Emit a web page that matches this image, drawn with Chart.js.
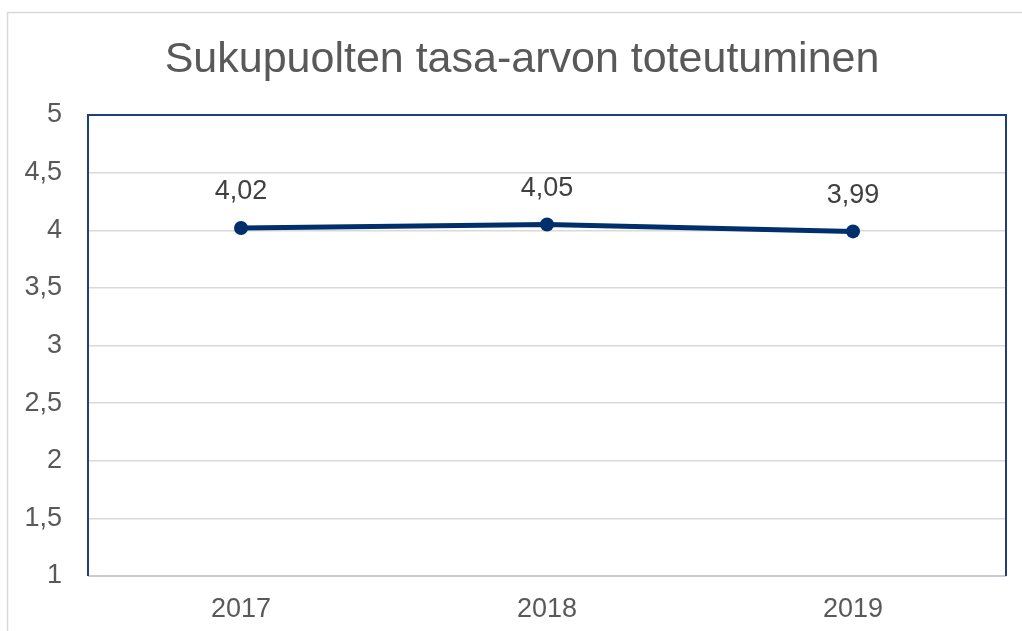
<!DOCTYPE html>
<html>
<head>
<meta charset="utf-8">
<script src="https://cdn.jsdelivr.net/npm/chart.js@4"></script>
<style>
  html, body { margin: 0; padding: 0; background: #ffffff; }
  #wrap { width: 1022px; height: 631px; position: relative; }
</style>
</head>
<body>
<div id="wrap"><canvas id="c" width="1022" height="631"></canvas></div>
<script>
const titleText = "Sukupuolten tasa-arvon toteutuminen";
const categories = ["2017", "2018", "2019"];
const values = [4.02, 4.05, 3.99];
const yMin = 1, yMax = 5, yStep = 0.5;

const fmt = v => String(v).replace('.', ',');

const decor = {
  id: 'decor',
  afterLayout(chart) {
    const t = chart.titleBlock;
    if (t) {
      const shift = 19;
      t.left += shift;
      t.right += shift;
    }
  },
  beforeDraw(chart) {
    const ctx = chart.ctx;
    ctx.save();
    ctx.strokeStyle = '#d9d9d9';
    ctx.lineWidth = 1.5;
    ctx.strokeRect(7.5, 12.5, 1100, 700);
    ctx.restore();
  },
  afterDatasetsDraw(chart) {
    const ctx = chart.ctx;
    const a = chart.chartArea;
    ctx.save();
    ctx.strokeStyle = '#c9ccd4';
    ctx.lineWidth = 2;
    ctx.beginPath();
    ctx.moveTo(a.left, a.bottom);
    ctx.lineTo(a.right, a.bottom);
    ctx.stroke();
    ctx.strokeStyle = '#1f3f7a';
    ctx.lineWidth = 2;
    ctx.beginPath();
    ctx.moveTo(a.left, a.bottom);
    ctx.lineTo(a.left, a.top);
    ctx.lineTo(a.right, a.top);
    ctx.lineTo(a.right, a.bottom);
    ctx.stroke();
    const meta = chart.getDatasetMeta(0);
    ctx.fillStyle = '#404040';
    ctx.font = '27px "Liberation Sans", Arial, sans-serif';
    ctx.textAlign = 'center';
    ctx.textBaseline = 'middle';
    meta.data.forEach((pt, i) => {
      ctx.fillText(fmt(values[i]), pt.x, pt.y - 36);
    });
    ctx.restore();
  }
};

new Chart(document.getElementById('c'), {
  type: 'line',
  data: {
    labels: categories,
    datasets: [{
      data: values,
      borderColor: '#002f6c',
      backgroundColor: '#002f6c',
      borderWidth: 5,
      pointRadius: 7,
      pointHoverRadius: 7,
      pointBackgroundColor: '#002f6c',
      pointBorderWidth: 0,
      tension: 0,
      clip: false
    }]
  },
  options: {
    responsive: false,
    animation: false,
    layout: { padding: { left: 0, right: 16, top: 0, bottom: 0 } },
    plugins: {
      legend: { display: false },
      tooltip: { enabled: false },
      title: {
        display: true,
        text: titleText,
        color: '#595959',
        font: { family: '"Liberation Sans", Arial, sans-serif', size: 43, weight: 'normal' },
        padding: { top: 34, bottom: 29.4 }
      }
    },
    scales: {
      x: {
        offset: true,
        grid: { display: false, drawTicks: false },
        border: { display: false },
        ticks: {
          color: '#595959',
          font: { family: '"Liberation Sans", Arial, sans-serif', size: 27 },
          padding: 17,
          maxRotation: 0
        },
        afterFit(scale) { scale.height = 55; }
      },
      y: {
        min: yMin,
        max: yMax,
        grid: { color: '#d9d9d9', lineWidth: 1.5, drawTicks: false },
        border: { display: false },
        ticks: {
          stepSize: yStep,
          color: '#595959',
          font: { family: '"Liberation Sans", Arial, sans-serif', size: 27 },
          padding: 26,
          callback: v => fmt(v)
        },
        afterFit(scale) { scale.width = 88; }
      }
    }
  },
  plugins: [decor]
});
</script>
</body>
</html>
